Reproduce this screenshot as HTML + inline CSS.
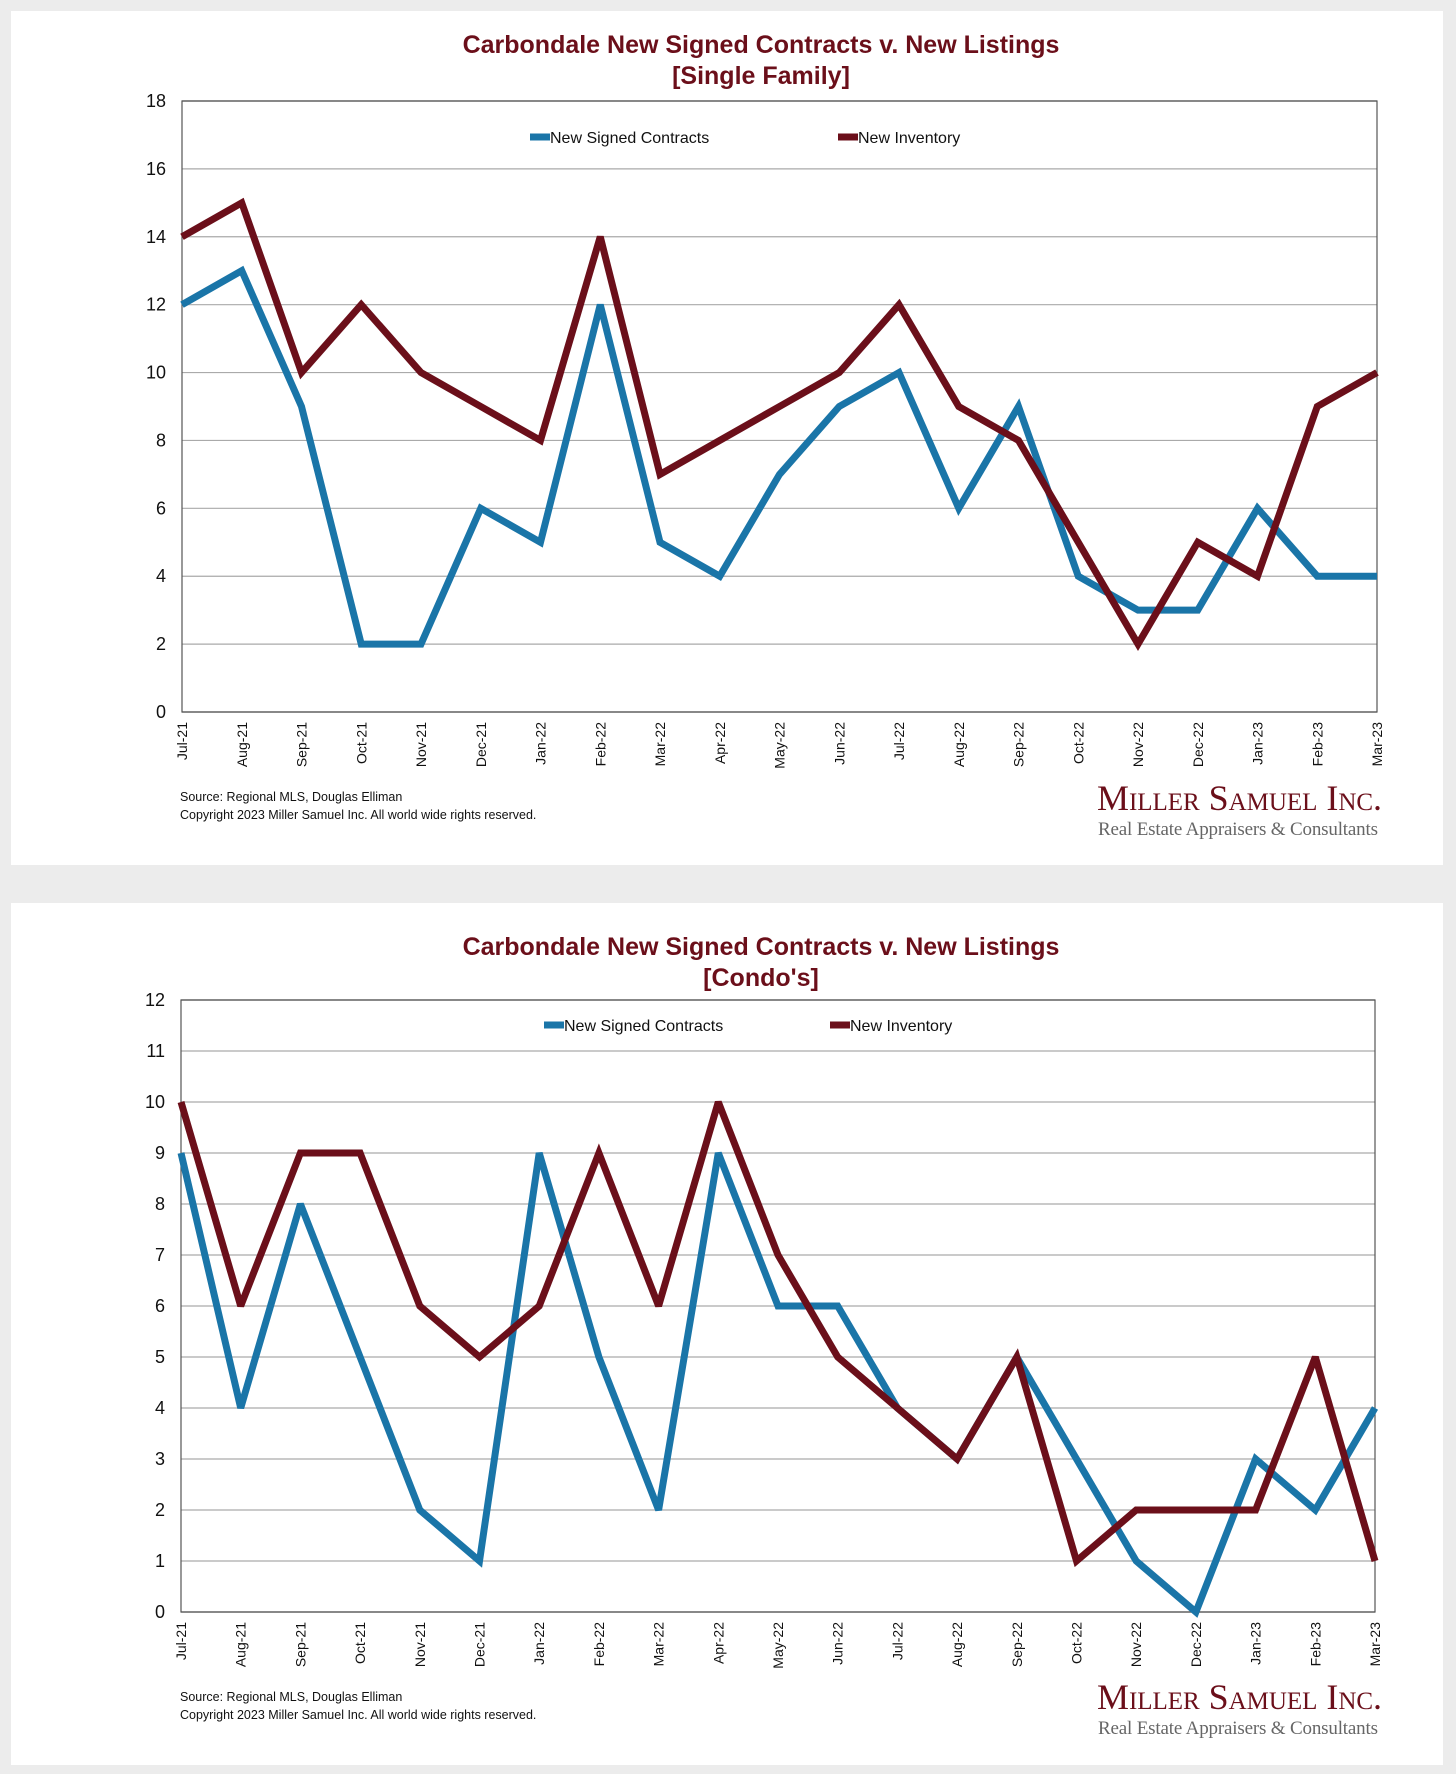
<!DOCTYPE html>
<html><head><meta charset="utf-8"><style>
body{margin:0;background:#ececec;}
svg{display:block;}
</style></head><body>
<svg id="root" width="1456" height="1774" xmlns="http://www.w3.org/2000/svg" font-family="Liberation Sans, sans-serif">
<rect x="0" y="0" width="1456" height="1774" fill="#ececec"/>
<rect x="11" y="11" width="1432" height="854" fill="#fff"/>
<rect x="11" y="903" width="1432" height="862" fill="#fff"/>
<g id="c1"></g>
<g id="c2"></g>
</svg>
<script>
const months = ["Jul-21","Aug-21","Sep-21","Oct-21","Nov-21","Dec-21","Jan-22","Feb-22","Mar-22","Apr-22","May-22","Jun-22","Jul-22","Aug-22","Sep-22","Oct-22","Nov-22","Dec-22","Jan-23","Feb-23","Mar-23"];
const sfContracts = [12,13,9,2,2,6,5,12,5,4,7,9,10,6,9,4,3,3,6,4,4];
const sfInventory = [14,15,10,12,10,9,8,14,7,8,9,10,12,9,8,5,2,5,4,9,10];
const sfTicks = [0,2,4,6,8,10,12,14,16,18];
const cdContracts = [9,4,8,5,2,1,9,5,2,9,6,6,4,3,5,3,1,0,3,2,4];
const cdInventory = [10,6,9,9,6,5,6,9,6,10,7,5,4,3,5,1,2,2,2,5,1];
const cdTicks = [0,1,2,3,4,5,6,7,8,9,10,11,12];
const NS="http://www.w3.org/2000/svg";
const BLUE="#1a75a8", RED="#6b0f1a";
function mk(tag, attrs, parent, text){const e=document.createElementNS(NS,tag);for(const k in attrs)e.setAttribute(k,attrs[k]);if(text!==undefined)e.textContent=text;parent.appendChild(e);return e;}
function draw(g, o){
  const x=i=>o.L+(o.R-o.L)*i/(months.length-1);
  const y=v=>o.B-(o.B-o.T)*v/o.max;
  let t=mk('text',{x:761,y:o.titleY,'text-anchor':'middle','font-size':25,'font-weight':'bold',fill:RED},g,o.title1);
  
  
  t=mk('text',{x:761,y:o.titleY+31,'text-anchor':'middle','font-size':25,'font-weight':'bold',fill:RED},g,o.title2);
  
  
  o.ticks.forEach(v=>{
    const l=mk('line',{x1:o.L,x2:o.R,y1:y(v),y2:y(v),stroke:v===0||v===o.max?'#555':'#aaa','stroke-width':1.2},g);
    
    
    const tt=mk('text',{x:o.L-16,y:y(v)+6,'text-anchor':'end','font-size':18,fill:'#111'},g,String(v));
    
    
  });
  let fr=mk('rect',{x:o.L,y:o.T,width:o.R-o.L,height:o.B-o.T,fill:'none',stroke:'#555','stroke-width':1.2},g);
  
  
  months.forEach((m,i)=>{
    const tx=mk('text',{transform:`translate(${x(i)+5},${o.B+10}) rotate(-90)`,'text-anchor':'end','font-size':14,fill:'#111'},g,m);
    
    
  });
  [[o.c,BLUE,'new-signed-contracts-line'],[o.n,RED,'new-inventory-line']].forEach(([d,c,nm])=>{
    const p=mk('polyline',{points:d.map((v,i)=>x(i)+','+y(v)).join(' '),fill:'none',stroke:c,'stroke-width':7,'stroke-linejoin':'miter','stroke-miterlimit':3},g);
    
    
  });
  [[o.lx1,BLUE,'New Signed Contracts'],[o.lx2,RED,'New Inventory']].forEach(([lx,c,lab])=>{
    const le=mk('g',{},g);
    
    
    mk('line',{x1:lx,x2:lx+20,y1:o.ly,y2:o.ly,stroke:c,'stroke-width':7},le);
    mk('text',{x:lx+20,y:o.ly+6,'font-size':16,fill:'#111'},le,lab);
  });
  t=mk('text',{x:180,y:o.srcY,'font-size':12.5,fill:'#111'},g,'Source: Regional MLS, Douglas Elliman');
  
  
  t=mk('text',{x:180,y:o.srcY+18,'font-size':12.5,fill:'#111'},g,'Copyright 2023 Miller Samuel Inc.  All world wide rights reserved.');
  
  
  t=mk('text',{x:1382,y:o.logoY,'text-anchor':'end','font-size':36,'font-family':'Liberation Serif, serif','font-variant':'small-caps',fill:RED,textLength:285},g,'Miller Samuel Inc.');
  
  
  t=mk('text',{x:1378,y:o.logoY+25,'text-anchor':'end','font-size':19,'font-family':'Liberation Serif, serif',fill:'#666',textLength:280},g,'Real Estate Appraisers & Consultants');
  
  
}
draw(document.getElementById('c1'),{L:182,R:1377,T:101,B:712,max:18,ticks:sfTicks,c:sfContracts,n:sfInventory,title1:'Carbondale New Signed Contracts v. New Listings',title2:'[Single Family]',titleY:53,lx1:530,lx2:838,ly:137,srcY:801,logoY:810});
draw(document.getElementById('c2'),{L:181,R:1375,T:1000,B:1612,max:12,ticks:cdTicks,c:cdContracts,n:cdInventory,title1:"Carbondale New Signed Contracts v. New Listings",title2:"[Condo's]",titleY:955,lx1:544,lx2:830,ly:1025,srcY:1701,logoY:1709});
</script>
</body></html>
